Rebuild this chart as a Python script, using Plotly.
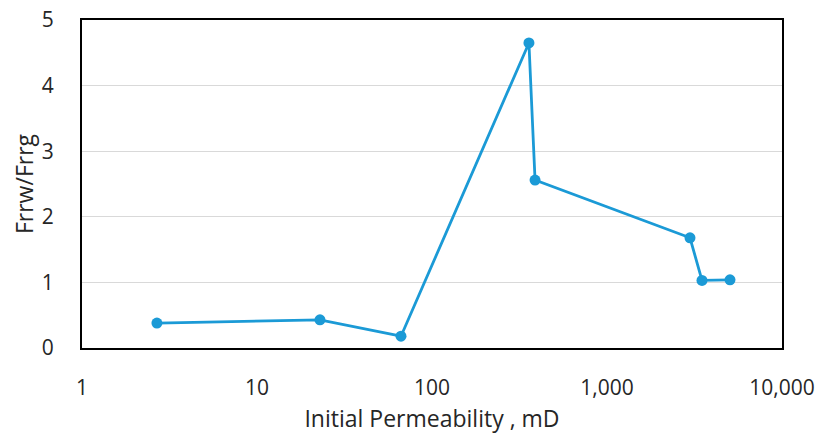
import plotly.graph_objects as go

permeability = [2.68, 22.9, 66.5, 358, 388, 2980, 3490, 5045]
frrw_frrg = [0.38, 0.43, 0.18, 4.65, 2.56, 1.68, 1.03, 1.04]

x_tickvals = [1, 10, 100, 1000, 10000]
x_ticktext = ["1", "10", "100", "1,000", "10,000"]
y_tickvals = [0, 1, 2, 3, 4, 5]

color = "#1b9ad6"
font = dict(family="Open Sans, Liberation Sans, sans-serif", size=21, color="#262626")
title_font = dict(family="Open Sans, Liberation Sans, sans-serif", size=23, color="#262626")

fig = go.Figure()
fig.add_trace(go.Scatter(
    x=permeability, y=frrw_frrg, mode="lines+markers",
    line=dict(color=color, width=2.8),
    marker=dict(color=color, size=11),
    showlegend=False,
))

fig.update_layout(
    width=820, height=434,
    margin=dict(l=82, r=38, t=20, b=86),
    paper_bgcolor="white", plot_bgcolor="white",
    font=font,
    xaxis=dict(
        type="log", range=[0, 4], automargin=False,
        tickvals=x_tickvals, ticktext=x_ticktext,
        showgrid=False, zeroline=False,
        showline=True, mirror=True, linecolor="black", linewidth=2,
        ticks="", ticklabelstandoff=20,
        title=dict(text="Initial Permeability , mD", standoff=14, font=title_font),
    ),
    yaxis=dict(
        range=[0, 5], tickvals=y_tickvals, automargin=False,
        showgrid=True, gridcolor="#d9d9d9", gridwidth=1,
        zeroline=False,
        showline=True, mirror=True, linecolor="black", linewidth=2,
        ticks="", ticklabelstandoff=22,
        title=dict(text="Frrw/Frrg", standoff=2, font=title_font),
    ),
)

fig.write_html("out.html")
